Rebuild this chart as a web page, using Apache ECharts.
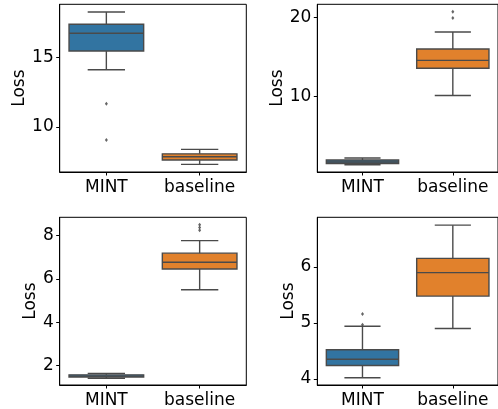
<!DOCTYPE html>
<html>
<head>
<meta charset="utf-8">
<script src="https://cdn.jsdelivr.net/npm/echarts@6/dist/echarts.min.js"></script>
<style>
  html, body { margin: 0; padding: 0; background: #fff; }
  #main { width: 498px; height: 409px; }
</style>
</head>
<body>
<div id="main"></div>
<script>
'use strict';

// box stats are [lower whisker, Q1, median, Q3, upper whisker]
let categories = ['MINT', 'baseline'];

let p1Mint = [14.13, 15.48, 16.76, 17.41, 18.29];
let p1Base = [7.31, 7.62, 7.86, 8.07, 8.39];
let p1Out = [[0, 11.68], [0, 9.06]];
let p1Ticks = [10, 15];

let p2Mint = [1.39, 1.55, 1.73, 1.98, 2.23];
let p2Base = [10.13, 13.57, 14.56, 16.0, 18.15];
let p2Out = [[1, 20.7], [1, 19.9]];
let p2Ticks = [10, 20];

let p3Mint = [1.40, 1.46, 1.50, 1.56, 1.63];
let p3Base = [5.5, 6.46, 6.77, 7.19, 7.77];
let p3Out = [[1, 8.5], [1, 8.38], [1, 8.25]];
let p3Ticks = [2, 4, 6, 8];

let p4Mint = [4.02, 4.24, 4.35, 4.52, 4.94];
let p4Base = [4.9, 5.48, 5.9, 6.155, 6.75];
let p4Out = [[0, 5.16], [0, 4.97]];
let p4Ticks = [4, 5, 6];

let boxColors = ['#3274a1', '#e1812c'];
let lineColor = '#4a4a4a';
let font = 'DejaVu Sans';

let panels = [
    {mint: p1Mint, base: p1Base, out: p1Out, ticks: p1Ticks, range: [6.76, 18.85], grid: {left: 59.7, top: 4.3}, gap: 29},
    {mint: p2Mint, base: p2Base, out: p2Out, ticks: p2Ticks, range: [0.47, 21.64], grid: {left: 317.3, top: 4.3}, gap: 29},
    {mint: p3Mint, base: p3Base, out: p3Out, ticks: p3Ticks, range: [1.09, 8.85], grid: {left: 59.7, top: 217.3}, gap: 18},
    {mint: p4Mint, base: p4Base, out: p4Out, ticks: p4Ticks, range: [3.89, 6.89], grid: {left: 317.3, top: 217.3}, gap: 18}
];

let renderBox = function(params, api){
    let x = api.value(0);
    let lo = api.coord([x, api.value(1)]);
    let q1 = api.coord([x, api.value(2)]);
    let med = api.coord([x, api.value(3)]);
    let q3 = api.coord([x, api.value(4)]);
    let hi = api.coord([x, api.value(5)]);
    let w = api.size([1, 0])[0] * 0.8;
    let cx = lo[0];
    let lineStyle = {stroke: lineColor, lineWidth: 1.4};
    return {
        type: 'group',
        children: [
            {type: 'line', shape: {x1: cx, y1: q3[1], x2: cx, y2: hi[1]}, style: lineStyle},
            {type: 'line', shape: {x1: cx, y1: q1[1], x2: cx, y2: lo[1]}, style: lineStyle},
            {type: 'line', shape: {x1: cx - w / 4, y1: hi[1], x2: cx + w / 4, y2: hi[1]}, style: lineStyle},
            {type: 'line', shape: {x1: cx - w / 4, y1: lo[1], x2: cx + w / 4, y2: lo[1]}, style: lineStyle},
            {type: 'rect', shape: {x: cx - w / 2, y: q3[1], width: w, height: q1[1] - q3[1]},
                style: {fill: boxColors[x], stroke: lineColor, lineWidth: 1.4}},
            {type: 'line', shape: {x1: cx - w / 2, y1: med[1], x2: cx + w / 2, y2: med[1]}, style: lineStyle}
        ]
    };
};

let grids = [], xAxes = [], yAxes = [], series = [];
panels.forEach(function(p, i){
    grids.push({
        left: p.grid.left, top: p.grid.top, width: 186.6, height: 167.7,
        show: true, borderColor: '#000', borderWidth: 1, backgroundColor: 'transparent'
    });
    xAxes.push({
        type: 'category', gridIndex: i, data: categories, boundaryGap: true,
        axisLine: {show: true, lineStyle: {color: '#000', width: 1}},
        axisTick: {show: true, alignWithLabel: true, interval: 0, length: 3.5, lineStyle: {color: '#000'}},
        axisLabel: {color: '#000', fontSize: 17, fontFamily: font, margin: 7,
            interval: 0, hideOverlap: false, showMinLabel: true, showMaxLabel: true}
    });
    yAxes.push({
        type: 'value', gridIndex: i, min: p.range[0], max: p.range[1],
        name: 'Loss', nameLocation: 'middle', nameGap: p.gap,
        nameTextStyle: {color: '#000', fontSize: 17, fontFamily: font},
        splitLine: {show: false},
        axisLine: {show: true, lineStyle: {color: '#000', width: 1}},
        axisTick: {show: true, length: 3.5, lineStyle: {color: '#000'}, customValues: p.ticks},
        axisLabel: {color: '#000', fontSize: 17, fontFamily: font, margin: 6, customValues: p.ticks}
    });
    series.push({
        type: 'custom', xAxisIndex: i, yAxisIndex: i,
        renderItem: renderBox,
        encode: {x: 0, y: [1, 2, 3, 4, 5]},
        data: [[0].concat(p.mint), [1].concat(p.base)],
        silent: true
    });
    series.push({
        type: 'scatter', xAxisIndex: i, yAxisIndex: i,
        symbol: 'diamond', symbolSize: [3, 4],
        itemStyle: {color: '#3f3f3f'},
        data: p.out, silent: true
    });
});

let myChart = echarts.init(document.getElementById('main'), null, {renderer: 'canvas'});
myChart.setOption({
    animation: false,
    grid: grids,
    xAxis: xAxes,
    yAxis: yAxes,
    series: series
});
</script>
</body>
</html>
